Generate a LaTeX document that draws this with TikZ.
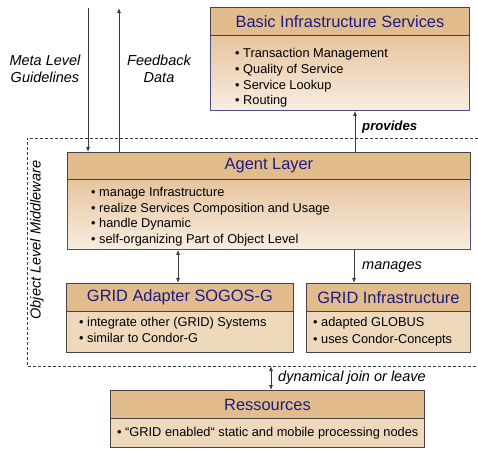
\documentclass[tikz,border=0pt]{standalone}
\usepackage{fontspec}
\setmainfont{Liberation Sans}
\usetikzlibrary{arrows.meta}
\definecolor{hdrfill}{HTML}{E3BC8E}
\definecolor{bodytop}{HTML}{E6C59D}
\definecolor{bodybot}{HTML}{F8EDE1}
\definecolor{flatbody}{HTML}{EFD9BD}
\definecolor{edgegray}{HTML}{4A4242}
\definecolor{edgeblue}{HTML}{4A4A8C}
\definecolor{titlenavy}{HTML}{1C1C80}
\definecolor{linegray}{HTML}{3A3A3A}

\newcommand\bline[4]{\node[bullettext] (#1) at (#2,#3) {\textbullet\ #4};}

\begin{document}
\begin{tikzpicture}[x=1pt,y=-1pt,
  hdr/.style={draw=edgegray, line width=0.9pt, fill=hdrfill, inner sep=0pt,
    anchor=north west, text=titlenavy, font=\fontsize{16.4}{18}\selectfont},
  gradbody/.style={draw=edgeblue, line width=0.9pt, top color=bodytop,
    bottom color=bodybot, inner sep=0pt, anchor=north west},
  flatbody/.style={draw=edgegray, line width=0.9pt, fill=flatbody,
    inner sep=0pt, anchor=north west},
  bullettext/.style={anchor=base west, inner sep=0pt,
    font=\fontsize{12.8}{15}\selectfont},
  lbl/.style={inner sep=0pt, font=\fontsize{14.5}{17}\selectfont\itshape},
  conn/.style={draw=linegray, line width=0.8pt},
  tip/.style={-{Latex[length=5pt,width=4pt]}},
  tips/.style={{Latex[length=5pt,width=4pt]}-{Latex[length=5pt,width=4pt]}}]

\useasboundingbox (0,0) rectangle (478,449);

% object level middleware frame (open to the right)
\draw[linegray, line width=0.7pt, dash pattern=on 3pt off 2pt]
  (478,138) -- (27,138) -- (27,366) -- (478,366);
\node[lbl, rotate=90] (olm) at (37,240) {Object Level Middleware};

% Basic Infrastructure Services
\node[gradbody, minimum width=259pt, minimum height=75pt] (bisB) at (210,35) {};
\node[hdr, minimum width=259pt, minimum height=28pt] (bisH) at (210,7) {Basic Infrastructure Services};
\bline{bis1}{235}{57.5}{Transaction Management}
\bline{bis2}{235}{73.5}{Quality of Service}
\bline{bis3}{235}{89.5}{Service Lookup}
\bline{bis4}{235}{104.5}{Routing}

% Agent Layer
\node[gradbody, minimum width=403pt, minimum height=70pt] (agB) at (67,179) {};
\node[hdr, minimum width=403pt, minimum height=27pt] (agH) at (67,152) {Agent Layer};
\bline{ag1}{91}{196.5}{manage Infrastructure}
\bline{ag2}{91}{212.5}{realize Services Composition and Usage}
\bline{ag3}{91}{227.5}{handle Dynamic}
\bline{ag4}{91}{243.5}{self-organizing Part of Object Level}

% GRID Adapter SOGOS-G
\node[flatbody, minimum width=227pt, minimum height=41pt] (gaB) at (66,311) {};
\node[hdr, minimum width=227pt, minimum height=28pt] (gaH) at (66,283) {GRID Adapter SOGOS-G};
\bline{ga1}{79}{326.5}{integrate other (GRID) Systems}
\bline{ga2}{79}{342.5}{similar to Condor-G}

% GRID Infrastructure
\node[flatbody, minimum width=164pt, minimum height=41pt] (giB) at (306,311) {};
\node[hdr, minimum width=164pt, minimum height=28pt] (giH) at (306,283) {GRID Infrastructure};
\bline{gi1}{313}{326.5}{adapted GLOBUS}
\bline{gi2}{313}{343}{uses Condor-Concepts}

% Ressources
\node[flatbody, minimum width=314pt, minimum height=29pt] (reB) at (110,418) {};
\node[hdr, minimum width=314pt, minimum height=28pt] (reH) at (110,390) {Ressources};
\bline{re1}{117}{436.5}{``GRID enabled`` static and mobile processing nodes}

% meta level connectors
\coordinate (metaTop) at (88,8);
\coordinate (fbTop) at (119,8);
\draw[conn, tip] (metaTop) -- (metaTop |- agH.north);
\draw[conn, tip] (fbTop |- agH.north) -- (fbTop);
\node[lbl, align=center] (metaLbl) at (45,68.5) {Meta Level\\Guidelines};
\node[lbl, align=center] (fbLbl) at (159,68.5) {Feedback\\Data};

% provides
\coordinate (provX) at (355,130);
\draw[conn, tip] (provX |- agH.north) -- (provX |- bisB.south);
\node[lbl, anchor=west, font=\fontsize{13.2}{15}\selectfont\bfseries\itshape] (provLbl) at (362,127) {provides};

% agent to adapter / infrastructure
\coordinate (gaX) at (178,260);
\draw[conn, tips] (gaX |- agB.south) -- (gaX |- gaH.north);
\coordinate (mgX) at (354,260);
\draw[conn, tip] (mgX |- agB.south) -- (mgX |- giH.north);
\node[lbl, anchor=west] (mgLbl) at (362,267) {manages};

% join / leave
\coordinate (djX) at (271,366);
\draw[conn, tips] (djX) -- (djX |- reH.north);
\node[lbl, anchor=west] (djLbl) at (278,378) {dynamical join or leave};
\end{tikzpicture}
\end{document}
